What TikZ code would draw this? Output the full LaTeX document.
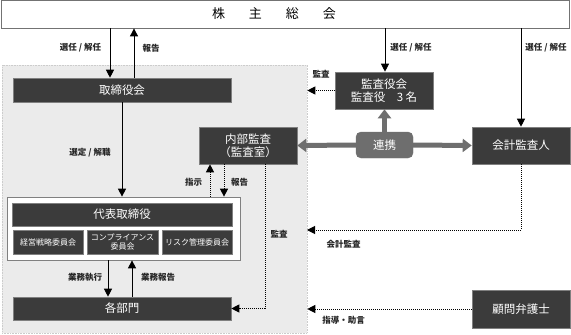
\documentclass[tikz,border=0pt]{standalone}
\usepackage{fontspec}
\setmainfont{Noto Sans CJK JP}
\usetikzlibrary{arrows.meta}
\definecolor{boxdark}{HTML}{3B3B3B}
\definecolor{grpfill}{HTML}{EBEBEB}
\definecolor{linkgray}{HTML}{6E6E6E}
\tikzset{
  dark/.style={draw=black!50, fill=boxdark, text=white, inner sep=0pt, align=center,
    line width=0.6pt, font=\fontsize{11.5}{13.5}\selectfont},
  comm/.style={dark, font=\fontsize{8}{9}\selectfont},
  lbl/.style={text=black!85, inner sep=0pt, font=\fontsize{8.5}{10}\selectfont\bfseries},
  arr/.style={line width=0.9pt, -{Triangle[width=8pt,length=8pt]}},
  darr/.style={line width=1pt, densely dotted, -{Triangle[width=8pt,length=8pt]}},
  bigarr/.style={draw=linkgray, line width=5pt, -{Triangle[width=13pt,length=9pt]}},
}
\begin{document}
\begin{tikzpicture}[x=1pt,y=-1pt]
\useasboundingbox (0,0) rectangle (571,335);
% group region
\node[draw=black!20, fill=grpfill, densely dotted, line width=0.6pt, minimum width=305pt, minimum height=268pt, inner sep=0pt] (grp) at (154.5,199) {};
% shareholders meeting
\node[draw=black!55, fill=white, line width=0.8pt, minimum width=568pt, minimum height=28pt, inner sep=0pt] (gm) at (285,14) {};
\node[inner sep=0pt, font=\fontsize{13}{15}\selectfont] (gmt) at (274,14) {株\hspace{24pt}主\hspace{24pt}総\hspace{24pt}会};
% boxes
\node[dark, minimum width=218pt, minimum height=24pt] (bod) at (122,90) {取締役会};
\node[dark, minimum width=98pt, minimum height=37pt] (kansa) at (384,90.5) {監査役会\\監査役　3 名};
\node[dark, minimum width=98pt, minimum height=37pt] (naibu) at (248,145.5) {内部監査\\（監査室）};
\node[fill=linkgray, draw=linkgray, text=white, rounded corners=5pt, minimum width=57pt, minimum height=26pt, inner sep=0pt, font=\fontsize{11.5}{13.5}\selectfont] (renkei) at (384.5,145) {連携};
\node[dark, minimum width=98pt, minimum height=37pt] (kaikei) at (521,145.5) {会計監査人};
\node[draw=black!50, fill=white, line width=0.7pt, minimum width=233pt, minimum height=63pt, inner sep=0pt] (outer) at (123.5,228.5) {};
\node[dark, minimum width=220pt, minimum height=23pt] (daihyo) at (122,214.5) {代表取締役};
\node[comm, minimum width=70pt, minimum height=24pt] (c1) at (48,242) {経営戦略委員会};
\node[comm, minimum width=71pt, minimum height=24pt] (c2) at (122.5,242) {コンプライアンス\\委員会};
\node[comm, minimum width=70pt, minimum height=24pt] (c3) at (197,242) {リスク管理委員会};
\node[dark, minimum width=218pt, minimum height=23pt] (kakubu) at (122,308.5) {各部門};
\node[dark, minimum width=98pt, minimum height=38pt] (komon) at (521,309) {顧問弁護士};
% helper coordinates
\coordinate (xa) at (110,0);
\coordinate (xb) at (134,0);
\coordinate (xc) at (385,0);
\coordinate (xd) at (521,0);
\coordinate (xe) at (122,0);
\coordinate (xf) at (210,0);
\coordinate (xg) at (224,0);
\coordinate (xh) at (265,0);
\coordinate (xi) at (108,0);
\coordinate (xj) at (132,0);
\coordinate (ka) at (307,230);
% connectors
\draw[arr] (gm.south -| xa) -- (bod.north -| xa);
\draw[arr] (bod.north -| xb) -- (gm.south -| xb);
\draw[arr] (gm.south -| xc) -- (kansa.north -| xc);
\draw[arr] (gm.south -| xd) -- (kaikei.north -| xd);
\draw[darr] (kansa.west) -- (grp.east |- kansa.west);
\draw[bigarr] (renkei.west) -- (naibu.east);
\draw[bigarr] (renkei.east) -- (kaikei.west);
\draw[bigarr] (renkei.north) -- (kansa.south -| renkei.north);
\draw[arr] (bod.south -| xe) -- (outer.north -| xe);
\draw[darr] (outer.north -| xf) -- (naibu.south -| xf);
\draw[darr] (naibu.south -| xg) -- (outer.north -| xg);
\draw[darr] (naibu.south -| xh) |- (kakubu.east);
\draw[arr] (outer.south -| xi) -- (kakubu.north -| xi);
\draw[arr] (kakubu.north -| xj) -- (outer.south -| xj);
\draw[darr] (kaikei.south) |- (ka);
\draw[darr] (komon.west) -- (grp.east |- komon.west);
% labels
\node[lbl] (l1) at (80.5,48) {選任 / 解任};
\node[lbl] (l2) at (151,48) {報告};
\node[lbl] (l3) at (411,48) {選任 / 解任};
\node[lbl] (l4) at (546,48) {選任 / 解任};
\node[lbl] (l5) at (321,74) {監査};
\node[lbl] (l6) at (90,153) {選定 / 解職};
\node[lbl] (l7) at (193.5,182) {指示};
\node[lbl] (l8) at (239.5,182) {報告};
\node[lbl] (l9) at (279,234) {監査};
\node[lbl] (l10) at (343.5,244) {会計監査};
\node[lbl] (l11) at (85,277) {業務執行};
\node[lbl] (l12) at (158,277) {業務報告};
\node[lbl] (l13) at (343.5,320) {指導・助言};
\end{tikzpicture}
\end{document}
